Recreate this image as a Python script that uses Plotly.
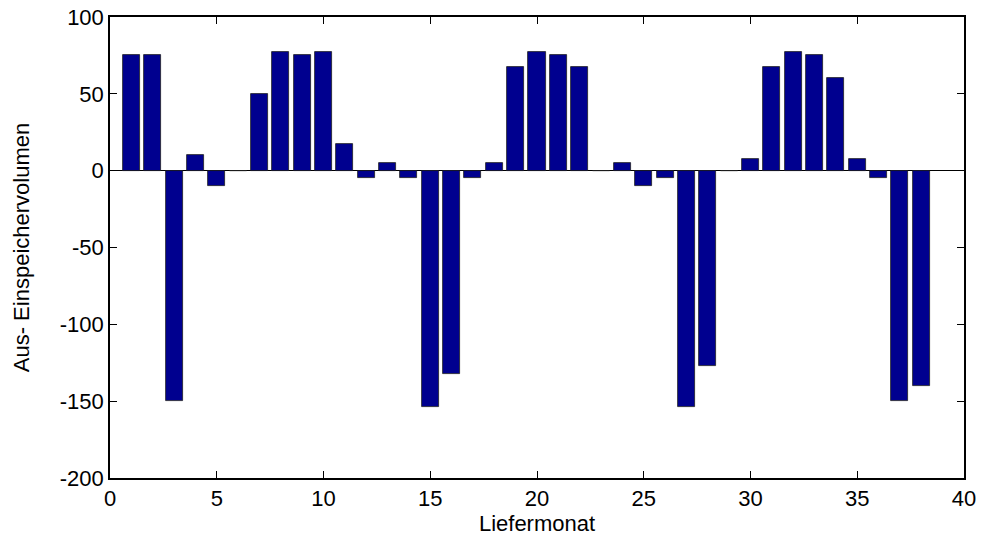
import plotly.graph_objects as go

# Monthly storage injection (+) / withdrawal (-) volumes per delivery month
months = list(range(1, 39))
volumes = [
    75, 75, -150, 10, -10, 0, 50, 77.5, 75, 77.5,
    17.5, -5, 5, -5, -154, -132, -5, 5, 67.5, 77.5,
    75, 67.5, 0, 5, -10, -5, -154, -127, 0, 7.5,
    67.5, 77.5, 75, 60, 7.5, -5, -150, -140,
]

x_ticks = list(range(0, 41, 5))
y_ticks = list(range(-200, 101, 50))

bar_color = "#00008F"
font_family = "Liberation Sans, Arial, Helvetica, sans-serif"
font_size = 22

fig = go.Figure(
    go.Bar(
        x=months,
        y=volumes,
        width=0.8,
        marker=dict(color=bar_color, line=dict(color="#202020", width=0.8)),
    )
)

axis_common = dict(
    showline=True,
    linecolor="black",
    linewidth=1.5,
    mirror="ticks",
    ticks="inside",
    ticklen=7,
    tickwidth=1,
    tickcolor="black",
    showgrid=False,
    automargin=False,
    tickfont=dict(family=font_family, size=font_size, color="black"),
    title_font=dict(family=font_family, size=font_size, color="black"),
)

fig.update_xaxes(
    range=[0, 40],
    tickvals=x_ticks,
    ticktext=[str(v) for v in x_ticks],
    title_text="Liefermonat",
    zeroline=False,
    **axis_common,
)
fig.update_yaxes(
    range=[-200, 100],
    tickvals=y_ticks,
    ticktext=[str(v) for v in y_ticks],
    title_text="Aus- Einspeichervolumen",
    title_standoff=24,
    zeroline=True,
    zerolinecolor="black",
    zerolinewidth=1,
    **axis_common,
)

fig.update_layout(
    width=990,
    height=536,
    margin=dict(l=110, r=26, t=17, b=58),
    paper_bgcolor="white",
    plot_bgcolor="white",
    showlegend=False,
    bargap=0,
    font=dict(family=font_family, size=font_size, color="black"),
)

fig.write_html("out.html")
